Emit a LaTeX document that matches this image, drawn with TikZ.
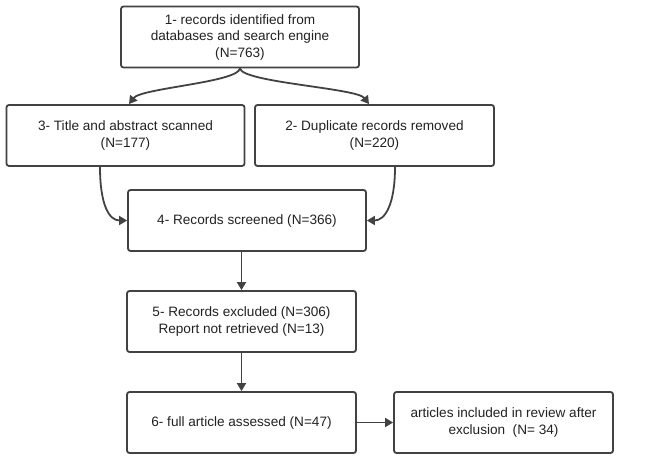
\documentclass[tikz,border=0pt]{standalone}
\usepackage{fontspec}
\setmainfont{Liberation Sans}
\usepackage{tikz}
\usetikzlibrary{arrows.meta}

\definecolor{linegray}{HTML}{424242}
\definecolor{textgray}{HTML}{222222}

\begin{document}
\begin{tikzpicture}[x=1pt, y=-1pt,
  every node/.style={font=\fontsize{13.6}{16.5}\selectfont, text=textgray},
  stepbox/.style={draw=linegray, line width=1.8pt, rounded corners=2.5pt, fill=white,
    align=center, inner sep=2pt, minimum height=61pt},
  flow/.style={draw=linegray, line width=1.8pt, -{Triangle[length=8pt, width=9pt]}}]
  \useasboundingbox (0,0) rectangle (648,462);
  % boxes
  \node[stepbox, minimum width=238pt] (rec) at (240,37) {1- records identified from\\databases and search engine\\(N=763)};
  \node[stepbox, minimum width=238pt] (scan) at (125.5,135.5) {3- Title and abstract scanned\\(N=177)};
  \node[stepbox, minimum width=239pt] (dup) at (374.5,135.5) {2- Duplicate records removed\\(N=220)};
  \node[stepbox, minimum width=238pt] (screen) at (247,220.5) {4- Records screened (N=366)};
  \node[stepbox, minimum width=229pt] (excl) at (241.5,321.5) {5- Records excluded (N=306)\\Report not retrieved (N=13)};
  \node[stepbox, minimum width=229pt] (full) at (241.5,422.5) {6- full article assessed (N=47)};
  \node[stepbox, minimum width=219pt] (incl) at (503.5,422.5) {articles included in review after\\exclusion~ (N= 34)};
  % connectors
  \draw[flow] (rec.south) .. controls +(-2,14) and +(12,-16) .. ([xshift=3.5pt]scan.north);
  \draw[flow] (rec.south) .. controls +(2,14) and +(-12,-16) .. ([xshift=-5.5pt]dup.north);
  \draw[flow] ([xshift=-25.5pt]scan.south) .. controls +(0,38) and +(-18,0) .. (screen.west);
  \draw[flow] ([xshift=20.5pt]dup.south) .. controls +(0,38) and +(18,0) .. (screen.east);
  \draw[flow] (excl.north |- screen.south) -- (excl.north);
  \draw[flow] (excl.south) -- (full.north);
  \draw[flow] (full.east) -- (incl.west);
\end{tikzpicture}
\end{document}
